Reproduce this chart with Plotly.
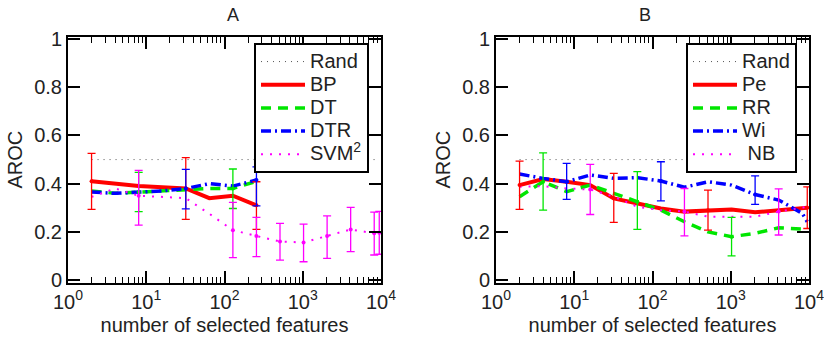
import plotly.graph_objects as go

# ---------------- data ----------------
xa = [2, 4, 8, 16, 32, 64, 128, 256]
xa_svm = [2, 4, 8, 16, 32, 64, 128, 256, 512, 1024, 2048, 4096, 8192, 9500]
rand_x = [2, 9500]
rand_y = [0.5, 0.5]

bp = [0.41, 0.40, 0.39, 0.385, 0.38, 0.34, 0.35, 0.31]
dt = [0.37, 0.36, 0.365, 0.37, 0.375, 0.38, 0.38, 0.41]
dtr = [0.365, 0.36, 0.365, 0.37, 0.38, 0.40, 0.39, 0.415]
svm = [0.345, 0.38, 0.35, 0.345, 0.34, 0.275, 0.207, 0.183, 0.16, 0.156, 0.183, 0.21, 0.194, 0.196]

# error bars (x, centre, upper, lower)
bp_ex = [2, 32, 256]; bp_ec = [0.41, 0.38, 0.31]; bp_up = [0.526, 0.508, 0.408]; bp_lo = [0.293, 0.252, 0.21]
dt_ex = [8, 128]; dt_ec = [0.365, 0.38]; dt_up = [0.447, 0.461]; dt_lo = [0.284, 0.297]
dtr_ex = [32, 256]; dtr_ec = [0.38, 0.415]; dtr_up = [0.459, 0.47]; dtr_lo = [0.295, 0.308]
svm_ex = [8, 128, 256, 512, 1024, 2048, 4096, 8192, 9500]
svm_ec = [0.35, 0.207, 0.183, 0.16, 0.156, 0.183, 0.21, 0.194, 0.196]
svm_up = [0.455, 0.322, 0.26, 0.235, 0.232, 0.266, 0.302, 0.282, 0.285]
svm_lo = [0.228, 0.093, 0.097, 0.083, 0.076, 0.09, 0.118, 0.104, 0.107]

xb = [2, 4, 8, 16, 32, 64, 128, 256, 512, 1024, 2048, 4096, 8192, 9500]
pe = [0.394, 0.419, 0.408, 0.394, 0.339, 0.318, 0.297, 0.284, 0.29, 0.293, 0.281, 0.29, 0.298, 0.30]
rr = [0.346, 0.408, 0.367, 0.394, 0.36, 0.325, 0.29, 0.242, 0.20, 0.18, 0.194, 0.217, 0.212, 0.207]
wi = [0.44, 0.422, 0.408, 0.436, 0.422, 0.425, 0.411, 0.385, 0.408, 0.394, 0.355, 0.332, 0.277, 0.242]
nb = [0.387, 0.39, 0.38, 0.376, 0.346, 0.304, 0.29, 0.284, 0.263, 0.263, 0.263, 0.284, 0.30, 0.304]

pe_ex = [2, 32, 512, 9500]; pe_ec = [0.394, 0.339, 0.29, 0.30]; pe_up = [0.494, 0.443, 0.373, 0.387]; pe_lo = [0.293, 0.239, 0.207, 0.214]
rr_ex = [4, 64, 1024]; rr_ec = [0.408, 0.325, 0.18]; rr_up = [0.528, 0.45, 0.26]; rr_lo = [0.29, 0.21, 0.10]
wi_ex = [8, 128, 2048]; wi_ec = [0.408, 0.411, 0.355]; wi_up = [0.484, 0.491, 0.432]; wi_lo = [0.335, 0.329, 0.314]
nb_ex = [16, 256, 4096]; nb_ec = [0.376, 0.284, 0.284]; nb_up = [0.48, 0.38, 0.378]; nb_lo = [0.272, 0.183, 0.187]

xtick_vals = [1, 10, 100, 1000, 10000]
xtick_text = ["10<sup>0</sup>", "10<sup>1</sup>", "10<sup>2</sup>", "10<sup>3</sup>", "10<sup>4</sup>"]
ytick_vals = [0, 0.2, 0.4, 0.6, 0.8, 1]
ytick_text = ["0", "0.2", "0.4", "0.6", "0.8", "1"]

names_a = ["Rand", "BP", "DT", "DTR", "SVM<sup>2</sup>"]
names_b = ["Rand", "Pe", "RR", "Wi", " NB"]

RED = "#ff0000"; GREEN = "#00e600"; BLUE = "#0000ff"; MAG = "#ff00ff"


def big(t):
    return "<span style='font-size:20px'>" + t + "</span>"


fig = go.Figure()


def err_trace(x, y, up, lo, color, xa_, ya_):
    return go.Scatter(
        x=x, y=y, mode="markers", xaxis=xa_, yaxis=ya_, showlegend=False,
        marker=dict(color=color, size=4),
        error_y=dict(type="data", symmetric=False,
                     array=[u - c for u, c in zip(up, y)],
                     arrayminus=[c - l for c, l in zip(y, lo)],
                     color=color, thickness=1.3, width=4),
        hoverinfo="skip")


RAND_LINE = dict(color="#555555", width=1, dash="1px,5px")
SOLID = dict(color=RED, width=4)
DASH = dict(color=GREEN, width=3.5, dash="10px,7px")
DASHDOT = dict(color=BLUE, width=3.5, dash="10px,4px,2px,4px")
DOT = dict(color=MAG, width=2, dash="2px,7px")

# ---- panel A ----
fig.add_trace(go.Scatter(x=rand_x, y=rand_y, mode="lines", name=big(names_a[0]), legend="legend",
                         line=RAND_LINE, xaxis="x", yaxis="y"))
fig.add_trace(go.Scatter(x=xa, y=bp, mode="lines", name=big(names_a[1]), legend="legend",
                         line=SOLID, xaxis="x", yaxis="y"))
fig.add_trace(go.Scatter(x=xa, y=dt, mode="lines", name=big(names_a[2]), legend="legend",
                         line=DASH, xaxis="x", yaxis="y"))
fig.add_trace(go.Scatter(x=xa, y=dtr, mode="lines", name=big(names_a[3]), legend="legend",
                         line=DASHDOT, xaxis="x", yaxis="y"))
fig.add_trace(go.Scatter(x=xa_svm, y=svm, mode="lines", name=big(names_a[4]), legend="legend",
                         line=DOT, xaxis="x", yaxis="y"))
fig.add_trace(err_trace(bp_ex, bp_ec, bp_up, bp_lo, RED, "x", "y"))
fig.add_trace(err_trace(dt_ex, dt_ec, dt_up, dt_lo, GREEN, "x", "y"))
fig.add_trace(err_trace(dtr_ex, dtr_ec, dtr_up, dtr_lo, BLUE, "x", "y"))
fig.add_trace(err_trace(svm_ex, svm_ec, svm_up, svm_lo, MAG, "x", "y"))

# ---- panel B ----
fig.add_trace(go.Scatter(x=rand_x, y=rand_y, mode="lines", name=big(names_b[0]), legend="legend2",
                         line=RAND_LINE, xaxis="x2", yaxis="y2"))
fig.add_trace(go.Scatter(x=xb, y=pe, mode="lines", name=big(names_b[1]), legend="legend2",
                         line=SOLID, xaxis="x2", yaxis="y2"))
fig.add_trace(go.Scatter(x=xb, y=rr, mode="lines", name=big(names_b[2]), legend="legend2",
                         line=DASH, xaxis="x2", yaxis="y2"))
fig.add_trace(go.Scatter(x=xb, y=wi, mode="lines", name=big(names_b[3]), legend="legend2",
                         line=DASHDOT, xaxis="x2", yaxis="y2"))
fig.add_trace(go.Scatter(x=xb, y=nb, mode="lines", name=big(names_b[4]), legend="legend2",
                         line=DOT, xaxis="x2", yaxis="y2"))
fig.add_trace(err_trace(pe_ex, pe_ec, pe_up, pe_lo, RED, "x2", "y2"))
fig.add_trace(err_trace(rr_ex, rr_ec, rr_up, rr_lo, GREEN, "x2", "y2"))
fig.add_trace(err_trace(wi_ex, wi_ec, wi_up, wi_lo, BLUE, "x2", "y2"))
fig.add_trace(err_trace(nb_ex, nb_ec, nb_up, nb_lo, MAG, "x2", "y2"))

W, H = 824, 342
FONT = "Liberation Sans, Arial, sans-serif"
ydom = [1 - 282.7 / H, 1 - 36.7 / H]


def xaxis_cfg(dom, anchor):
    return dict(type="log", range=[0, 4], domain=dom, anchor=anchor, automargin=False,
                tickvals=xtick_vals, ticktext=xtick_text, ticks="inside", ticklen=12,
                tickwidth=1.5, tickcolor="black", showline=True, linecolor="black", linewidth=2,
                mirror="ticks", showgrid=False, zeroline=False, ticklabeloverflow="allow",
                minor=dict(ticks="inside", ticklen=6, tickwidth=1.2, tickcolor="black", dtick="D1", showgrid=False),
                tickfont=dict(size=20, color="#222"),
                title=dict(text="number of selected features", font=dict(size=20, color="#222"), standoff=6))


def yaxis_cfg(anchor):
    return dict(range=[-0.011, 1.01], domain=ydom, anchor=anchor, automargin=False,
                tickvals=ytick_vals, ticktext=ytick_text, ticks="inside", ticklen=12,
                tickwidth=1.5, tickcolor="black", showline=True, linecolor="black", linewidth=2,
                mirror="ticks", showgrid=False, zeroline=False, ticklabeloverflow="allow",
                tickfont=dict(size=20, color="#222"),
                title=dict(text="AROC", font=dict(size=20, color="#222"), standoff=6))


leg_common = dict(bgcolor="white", bordercolor="black", borderwidth=2,
                  font=dict(size=15.5, family=FONT, color="#222"),
                  xanchor="left", yanchor="top", tracegroupgap=0, itemwidth=44)

fig.update_layout(
    width=W, height=H, margin=dict(l=0, r=0, t=0, b=0, autoexpand=False),
    paper_bgcolor="white", plot_bgcolor="white",
    font=dict(family=FONT, color="#222"),
    xaxis=xaxis_cfg([68 / W, 381 / W], "y"),
    yaxis=yaxis_cfg("x"),
    xaxis2=xaxis_cfg([496 / W, 809 / W], "y2"),
    yaxis2=yaxis_cfg("x2"),
    legend=dict(x=254 / W, y=1 - 43 / H, **leg_common),
    legend2=dict(x=686 / W, y=1 - 43 / H, **leg_common),
    annotations=[
        dict(text="A", x=(68 + 381) / 2 / W, y=1 - 15 / H, xref="paper", yref="paper",
             showarrow=False, font=dict(size=18, color="#222"), yanchor="middle"),
        dict(text="B", x=(496 + 809) / 2 / W, y=1 - 15 / H, xref="paper", yref="paper",
             showarrow=False, font=dict(size=18, color="#222"), yanchor="middle"),
    ],
    showlegend=True,
)

fig.write_html("out.html")
